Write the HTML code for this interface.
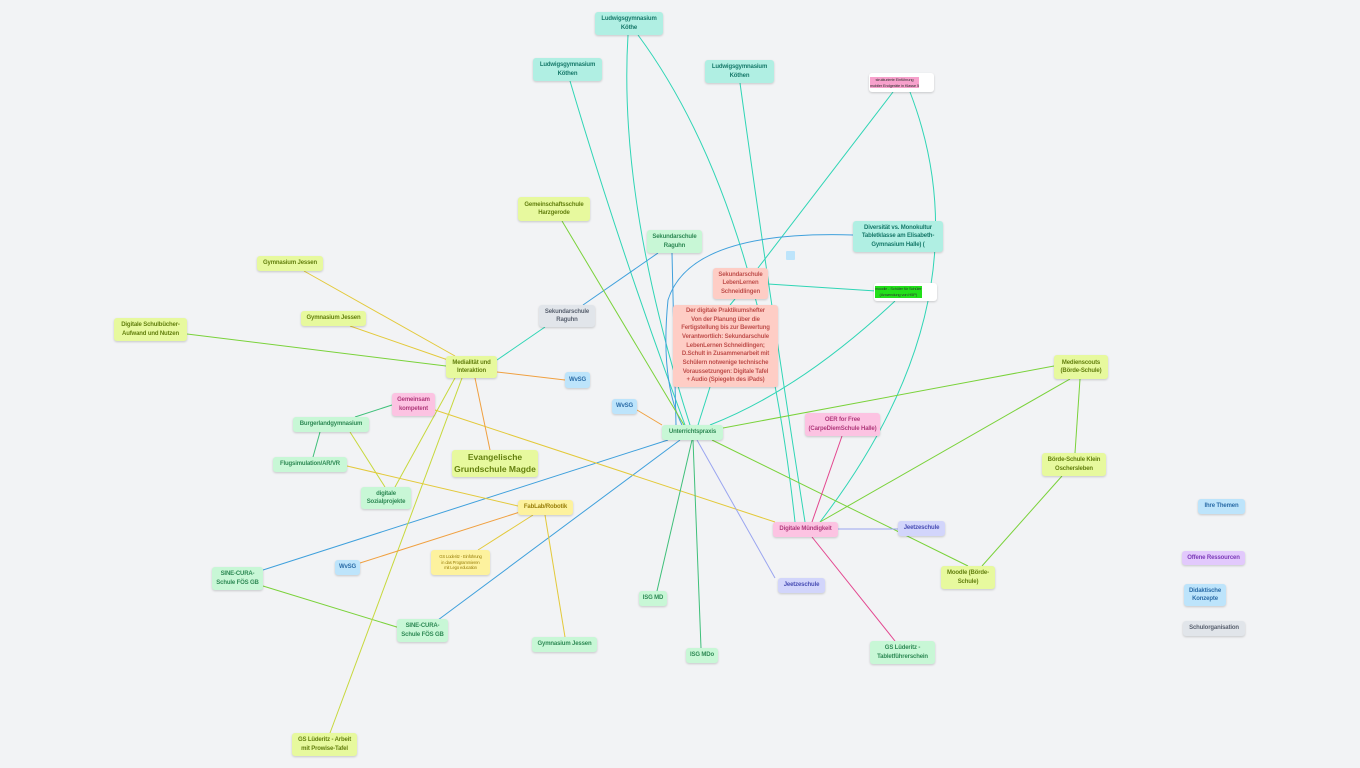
<!DOCTYPE html><html><head><meta charset="utf-8"><style>
body{margin:0;width:1360px;height:768px;background:#f2f3f5;position:relative;overflow:hidden;font-family:"Liberation Sans",sans-serif}
svg{position:absolute;left:0;top:0}
.n{position:absolute;box-sizing:border-box;display:flex;align-items:center;justify-content:center;text-align:center;font-size:6px;letter-spacing:-0.15px;white-space:nowrap;font-weight:bold;line-height:1.4;border-radius:3px;box-shadow:0 1px 2px rgba(0,0,0,.18);padding:0 1px}
.t{background:#b0efe3;color:#17796a}.g{background:#c8f7d6;color:#2f8a55}.l{background:#e7f99e;color:#64800f}.y{background:#fdf29e;color:#9a800c}
.b{background:#bde4fb;color:#2c6da8}.p{background:#fcc3e2;color:#b13a7c}.s{background:#fecdc5;color:#c0504d}.v{background:#d2d5fb;color:#4a4fb5}
.u{background:#e2c9fc;color:#7c3bb8}.k{background:#e1e5ea;color:#5a6270}.w{background:#fff;color:#333;font-weight:normal;font-size:4px}
</style></head><body>
<svg width="1360" height="768" fill="none" stroke-width="1">
<g stroke="#2fd5b5">
<path d="M628 35 Q618 200 690 425"/><path d="M638 35 Q760 200 795 522"/>
<path d="M570 81 Q620 250 685 425"/><path d="M740 83 Q770 300 805 522"/>
<path d="M893 92 L758 268"/><path d="M910 92 Q990 300 820 522"/>
<path d="M768 284 L876 291"/><path d="M735 299 L730 305"/>
<path d="M710 387 L698 425"/><path d="M895 301 Q800 390 710 425"/>
<path d="M497 360 L545 327"/>
</g>
<g stroke="#3fa0dc"><path d="M853 235 Q690 230 668 300 Q660 380 682 425"/><path d="M672 253 L676 425"/>
<path d="M658 253 L583 305"/><path d="M263 570 L668 440"/><path d="M438 620 L680 440"/></g>
<g stroke="#7ad23a"><path d="M562 221 L684 425"/><path d="M723 428 L1054 366"/><path d="M712 440 L968 566"/><path d="M820 522 L1070 379"/>
<path d="M1080 379 L1075 453"/><path d="M1062 476 L982 566"/><path d="M263 586 L400 628"/><path d="M187 334 L446 366"/></g>
<g stroke="#c7d83c"><path d="M462 378 L330 733"/><path d="M455 378 L395 487"/><path d="M350 432 L385 487"/></g>
<g stroke="#e3c93a"><path d="M304 271 L455 356"/><path d="M350 326 L448 360"/><path d="M435 410 L775 522"/><path d="M347 466 L518 506"/>
<path d="M533 515 L478 550"/><path d="M545 515 L565 637"/></g>
<g stroke="#f0a040"><path d="M497 372 L565 380"/><path d="M637 410 L662 425"/><path d="M475 378 L490 450"/><path d="M360 563 L520 512"/></g>
<g stroke="#3fc07a"><path d="M392 405 L355 417"/><path d="M320 432 L313 457"/><path d="M692 440 L657 591"/><path d="M693 440 L701 648"/></g>
<path d="M697 440 L775 578" stroke="#9aa5f0"/><path d="M838 529 L898 529" stroke="#9aa5f0"/>
<g stroke="#e3468f"><path d="M842 436 L812 522"/><path d="M812 537 L895 641"/></g>
</svg>
<div class="n t" style="left:595px;top:12px;width:68px;height:23px">Ludwigsgymnasium<br>Köthe</div>
<div class="n t" style="left:533px;top:58px;width:69px;height:23px">Ludwigsgymnasium<br>Köthen</div>
<div class="n t" style="left:705px;top:60px;width:69px;height:23px">Ludwigsgymnasium<br>Köthen</div>
<div class="n w" style="left:869px;top:73px;width:65px;height:19px;justify-content:flex-start"><span style="background:#f7a1cc">strukturierte Einführung<br>mobiler Endgeräte in Klasse 5</span></div>
<div class="n l" style="left:518px;top:197px;width:72px;height:24px">Gemeinschaftsschule<br>Harzgerode</div>
<div class="n g" style="left:647px;top:230px;width:55px;height:23px">Sekundarschule<br>Raguhn</div>
<div class="n t" style="left:853px;top:221px;width:90px;height:31px">Diversität vs. Monokultur<br>Tabletklasse am Elisabeth-<br>Gymnasium Halle) (</div>
<div style="position:absolute;left:786px;top:251px;width:9px;height:9px;background:#bde4fb;border-radius:1px"></div>
<div class="n s" style="left:713px;top:268px;width:55px;height:31px">Sekundarschule<br>LebenLernen<br>Schneidlingen</div>
<div class="n w" style="left:874px;top:283px;width:63px;height:18px;justify-content:flex-start"><span style="background:#22e01a">moodle - Schüler für Schüler<br>(Anwendung von H5P)</span></div>
<div class="n s" style="left:673px;top:305px;width:105px;height:82px;line-height:1.45">Der digitale Praktikumshefter<br>Von der Planung über die<br>Fertigstellung bis zur Bewertung<br>Verantwortlich: Sekundarschule<br>LebenLernen Schneidlingen;<br>D.Schult in Zusammenarbeit mit<br>Schülern notwenige technische<br>Voraussetzungen: Digitale Tafel<br>+ Audio (Spiegeln des iPads)</div>
<div class="n k" style="left:539px;top:305px;width:56px;height:22px">Sekundarschule<br>Raguhn</div>
<div class="n l" style="left:257px;top:256px;width:66px;height:15px">Gymnasium Jessen</div>
<div class="n l" style="left:301px;top:311px;width:65px;height:15px">Gymnasium Jessen</div>
<div class="n l" style="left:114px;top:318px;width:73px;height:23px">Digitale Schulbücher-<br>Aufwand und Nutzen</div>
<div class="n l" style="left:446px;top:356px;width:51px;height:22px">Medialität und<br>Interaktion</div>
<div class="n b" style="left:565px;top:372px;width:25px;height:16px">WvSG</div>
<div class="n b" style="left:612px;top:399px;width:25px;height:15px">WvSG</div>
<div class="n g" style="left:662px;top:425px;width:61px;height:15px">Unterrichtspraxis</div>
<div class="n p" style="left:392px;top:393px;width:43px;height:23px">Gemeinsam<br>kompetent</div>
<div class="n g" style="left:293px;top:417px;width:76px;height:15px">Burgerlandgymnasium</div>
<div class="n g" style="left:273px;top:457px;width:74px;height:15px">Flugsimulation/AR/VR</div>
<div class="n g" style="left:361px;top:487px;width:50px;height:22px">digitale<br>Sozialprojekte</div>
<div class="n l" style="left:452px;top:450px;width:86px;height:27px;font-size:8.5px;letter-spacing:0">Evangelische<br>Grundschule Magde</div>
<div class="n y" style="left:518px;top:500px;width:55px;height:15px">FabLab/Robotik</div>
<div class="n y" style="left:431px;top:550px;width:59px;height:25px;font-size:4.2px;font-weight:normal">GS Lüderitz - Einführung<br>in das Programmieren<br>mit Lego education</div>
<div class="n b" style="left:335px;top:560px;width:25px;height:15px">WvSG</div>
<div class="n g" style="left:212px;top:567px;width:51px;height:23px">SINE-CURA-<br>Schule FÖS GB</div>
<div class="n g" style="left:397px;top:619px;width:51px;height:23px">SINE-CURA-<br>Schule FÖS GB</div>
<div class="n g" style="left:532px;top:637px;width:65px;height:15px">Gymnasium Jessen</div>
<div class="n l" style="left:292px;top:733px;width:65px;height:23px">GS Lüderitz - Arbeit<br>mit Prowise-Tafel</div>
<div class="n g" style="left:639px;top:591px;width:28px;height:15px">ISG MD</div>
<div class="n g" style="left:686px;top:648px;width:32px;height:15px">ISG MDo</div>
<div class="n v" style="left:778px;top:578px;width:47px;height:15px">Jeetzeschule</div>
<div class="n p" style="left:805px;top:413px;width:75px;height:23px">OER for Free<br>(CarpeDiemSchule Halle)</div>
<div class="n p" style="left:773px;top:522px;width:65px;height:15px">Digitale Mündigkeit</div>
<div class="n v" style="left:898px;top:521px;width:47px;height:15px">Jeetzeschule</div>
<div class="n g" style="left:870px;top:641px;width:65px;height:23px">GS Lüderitz -<br>Tabletführerschein</div>
<div class="n l" style="left:941px;top:566px;width:54px;height:23px">Moodle (Börde-<br>Schule)</div>
<div class="n l" style="left:1042px;top:453px;width:64px;height:23px">Börde-Schule Klein<br>Oschersleben</div>
<div class="n l" style="left:1054px;top:355px;width:54px;height:24px">Medienscouts<br>(Börde-Schule)</div>
<div class="n b" style="left:1198px;top:499px;width:47px;height:15px">Ihre Themen</div>
<div class="n u" style="left:1182px;top:551px;width:63px;height:14px">Offene Ressourcen</div>
<div class="n b" style="left:1184px;top:584px;width:42px;height:22px">Didaktische<br>Konzepte</div>
<div class="n k" style="left:1183px;top:621px;width:62px;height:15px">Schulorganisation</div>
</body></html>
